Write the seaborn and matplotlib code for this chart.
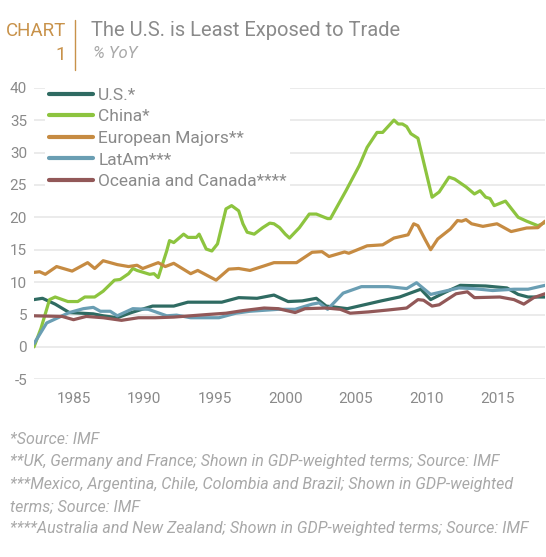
import matplotlib
matplotlib.use("Agg")
import matplotlib.pyplot as plt
from matplotlib.lines import Line2D
import seaborn as sns
import pandas as pd

# ==========================================
# Data (% YoY)
# ==========================================
us_years = [1982.2, 1982.8, 1983.7, 1984.7, 1986.4, 1987.1, 1988.1, 1989.1, 1990.6, 1992.1,
            1993.1, 1995.5, 1996.7, 1998.0, 1999.2, 2000.2, 2001.2, 2002.2, 2002.9, 2004.4,
            2005.6, 2006.8, 2008.1, 2009.6, 2010.3, 2011.3, 2012.4, 2014.2, 2015.7, 2016.5,
            2017.2, 2018.4]
us_vals = [7.3, 7.5, 6.6, 5.3, 5.1, 4.8, 4.5, 5.3, 6.3, 6.3,
           6.9, 6.9, 7.6, 7.5, 8.0, 7.0, 7.1, 7.5, 6.3, 5.9,
           6.5, 7.1, 7.7, 8.9, 7.3, 8.4, 9.5, 9.4, 9.1, 8.1,
           7.7, 7.7]

china_years = [1982.2, 1982.7, 1983.3, 1983.7, 1984.6, 1985.3, 1985.8, 1986.5, 1987.1, 1987.9,
               1988.3, 1988.9, 1989.2, 1989.5, 1990.4, 1990.7, 1991.0, 1991.6, 1991.8, 1992.1,
               1992.8, 1993.1, 1993.7, 1993.9, 1994.4, 1994.8, 1995.2, 1995.8, 1996.2, 1996.7,
               1997.0, 1997.3, 1997.8, 1998.4, 1998.9, 1999.2, 1999.6, 2000.0, 2000.3, 2001.0,
               2001.7, 2002.2, 2003.0, 2003.2, 2004.3, 2005.25, 2005.8, 2006.5, 2006.9, 2007.7,
               2008.0, 2008.3, 2008.6, 2008.9, 2009.4, 2010.4, 2010.9, 2011.6, 2012.0, 2012.8,
               2013.4, 2013.8, 2014.2, 2014.5, 2014.8, 2015.6, 2016.5, 2017.1, 2017.9, 2018.4]
china_vals = [0.0, 2.9, 7.3, 7.7, 7.0, 7.0, 7.7, 7.7, 8.6, 10.3,
              10.4, 11.3, 12.1, 11.8, 11.2, 11.3, 10.7, 14.8, 16.4, 16.1,
              17.4, 16.9, 16.9, 17.4, 15.1, 14.8, 15.9, 21.3, 21.8, 21.0,
              19.0, 17.7, 17.4, 18.4, 19.1, 19.0, 18.4, 17.4, 16.8, 18.4,
              20.5, 20.5, 19.8, 19.8, 24.1, 28.0, 30.8, 33.1, 33.1, 35.0,
              34.4, 34.4, 34.0, 32.9, 32.2, 23.1, 23.9, 26.2, 25.9, 24.7,
              23.6, 24.1, 23.1, 22.9, 21.8, 22.5, 20.0, 19.4, 18.7, 19.2]

eu_years = [1982.2, 1982.6, 1983.0, 1983.8, 1984.9, 1986.0, 1986.5, 1987.1, 1988.1, 1988.9,
            1989.5, 1989.9, 1991.0, 1991.5, 1992.1, 1993.3, 1993.8, 1995.1, 1996.0, 1996.7,
            1997.5, 1998.5, 1999.2, 2000.8, 2001.9, 2002.6, 2003.1, 2004.2, 2004.5, 2005.8,
            2006.9, 2007.7, 2008.7, 2009.1, 2009.4, 2009.9, 2010.3, 2010.8, 2011.7, 2012.2,
            2012.5, 2012.8, 2013.2, 2014.0, 2015.0, 2016.0, 2017.1, 2017.9, 2018.4]
eu_vals = [11.5, 11.6, 11.2, 12.4, 11.7, 13.0, 12.1, 13.3, 12.7, 12.4,
           12.6, 12.1, 13.0, 12.4, 12.9, 11.3, 11.8, 10.3, 12.0, 12.1,
           11.8, 12.5, 13.0, 13.0, 14.6, 14.7, 13.95, 14.65, 14.45, 15.6,
           15.75, 16.8, 17.3, 19.0, 18.7, 16.6, 15.0, 16.65, 18.2, 19.5,
           19.4, 19.65, 19.0, 18.6, 19.0, 17.8, 18.35, 18.4, 19.4]

latam_years = [1982.2, 1983.1, 1983.9, 1984.7, 1985.7, 1986.4, 1986.9, 1987.6, 1988.1, 1989.2,
               1990.3, 1991.6, 1992.3, 1993.3, 1995.3, 1996.5, 1997.5, 1999.5, 2000.7, 2001.9,
               2002.4, 2003.0, 2004.1, 2005.4, 2007.3, 2008.6, 2009.3, 2010.3, 2012.3, 2013.3,
               2014.7, 2016.2, 2017.2, 2018.4]
latam_vals = [0.5, 3.7, 4.5, 5.3, 5.9, 6.1, 5.5, 5.5, 4.8, 5.9,
              5.8, 4.8, 4.9, 4.5, 4.5, 5.2, 5.5, 5.8, 5.8, 6.6,
              6.8, 5.8, 8.3, 9.3, 9.3, 9.0, 9.9, 8.1, 9.1, 9.0,
              8.7, 8.9, 8.9, 9.5]

oc_years = [1982.2, 1984.2, 1985.0, 1985.9, 1987.1, 1988.4, 1989.6, 1990.8, 1992.1, 1994.5,
            1995.8, 1997.0, 1998.5, 1999.5, 2000.7, 2001.4, 2002.9, 2003.9, 2004.6, 2005.9,
            2007.3, 2008.6, 2009.4, 2009.8, 2010.4, 2010.9, 2012.1, 2012.9, 2013.4, 2015.2,
            2016.2, 2016.9, 2017.6, 2018.4]
oc_vals = [4.8, 4.7, 4.2, 4.7, 4.5, 4.1, 4.5, 4.5, 4.6, 5.0,
           5.2, 5.6, 6.0, 5.9, 5.3, 5.9, 6.0, 5.8, 5.2, 5.4,
           5.7, 6.0, 7.3, 7.2, 6.3, 6.5, 8.2, 8.5, 7.6, 7.7,
           7.3, 6.6, 7.6, 8.2]

series_names = ["U.S.*", "China*", "European Majors**", "LatAm***", "Oceania and Canada****"]
series_years = [us_years, china_years, eu_years, latam_years, oc_years]
series_vals = [us_vals, china_vals, eu_vals, latam_vals, oc_vals]
colors = ["#2f6b62", "#8dc43f", "#c68b42", "#6a9eb3", "#925858"]

x_ticks = [1985, 1990, 1995, 2000, 2005, 2010, 2015]
y_ticks = [-5, 0, 5, 10, 15, 20, 25, 30, 35, 40]

footnotes = [
    "*Source: IMF",
    "**UK, Germany and France; Shown in GDP-weighted terms; Source: IMF",
    "***Mexico, Argentina, Chile, Colombia and Brazil; Shown in GDP-weighted",
    "terms; Source: IMF",
    "****Australia and New Zealand; Shown in GDP-weighted terms; Source: IMF",
]

# ==========================================
# Styling
# ==========================================
sns.set_theme(style="white")
plt.rcParams["font.family"] = ["Roboto", "DejaVu Sans"]
plt.rcParams["axes.unicode_minus"] = False

GOLD = "#c8924a"
GRAY = "#8a8a8a"
LIGHT = "#a8a8a8"

frames = []
for name, yrs, vals in zip(series_names, series_years, series_vals):
    frames.append(pd.DataFrame({"year": yrs, "value": vals, "series": name}))
df = pd.concat(frames, ignore_index=True)

fig = plt.figure(figsize=(5.46, 5.57), dpi=100)
ax = fig.add_axes([34 / 546, 1 - 379.3 / 557, 511 / 546, (379.3 - 87.7) / 557])

sns.lineplot(data=df, x="year", y="value", hue="series", hue_order=series_names,
             palette=colors, estimator=None, sort=False, linewidth=2.3, ax=ax,
             legend=False)

ax.set_xlim(1982.2, 2018.4)
ax.set_ylim(-5, 40)
ax.set_xticks(x_ticks)
ax.set_yticks(y_ticks)
ax.set_xlabel("")
ax.set_ylabel("")
ax.grid(axis="y", color="#e6e6e6", linewidth=1.1)
ax.grid(axis="x", visible=False)
ax.set_axisbelow(True)
for s in ax.spines.values():
    s.set_visible(False)
ax.tick_params(axis="both", length=0, labelsize=11, labelcolor=GRAY)
ax.tick_params(axis="x", pad=9)
ax.tick_params(axis="y", pad=5)

handles = [Line2D([0], [0], color=c, lw=3, solid_capstyle="round") for c in colors]
leg = ax.legend(handles, series_names, loc="upper left", bbox_to_anchor=(0.022, 1.012),
                frameon=True, fontsize=12.5, handlelength=2.55, handletextpad=0.3,
                labelspacing=0.37, borderpad=0.2, borderaxespad=0)
leg.get_frame().set_facecolor("white")
leg.get_frame().set_edgecolor("none")
leg.get_frame().set_alpha(1)
for t in leg.get_texts():
    t.set_color(GRAY)

# header
fig.text(66 / 546, 1 - 31 / 557, "CHART", color=GOLD, fontsize=13.5, ha="right", va="center")
fig.text(66 / 546, 1 - 55 / 557, "1", color=GOLD, fontsize=13.5, ha="right", va="center")
fig.add_artist(Line2D([75 / 546, 75 / 546], [1 - 20 / 557, 1 - 70 / 557], color=GOLD, lw=1))
fig.text(91 / 546, 1 - 31 / 557, "The U.S. is Least Exposed to Trade", color=GRAY,
         fontsize=14.5, ha="left", va="center")
fig.text(93 / 546, 1 - 54 / 557, "% YoY", color=LIGHT, fontsize=12, style="italic",
         ha="left", va="center")

# footnotes
foot_y = [439, 461.5, 484, 506.5, 529]
for txt, yy in zip(footnotes, foot_y):
    fig.text(10 / 546, 1 - yy / 557, txt, color=LIGHT, fontsize=11.5, style="italic",
             ha="left", va="center")

fig.savefig("out.png", dpi=100)
